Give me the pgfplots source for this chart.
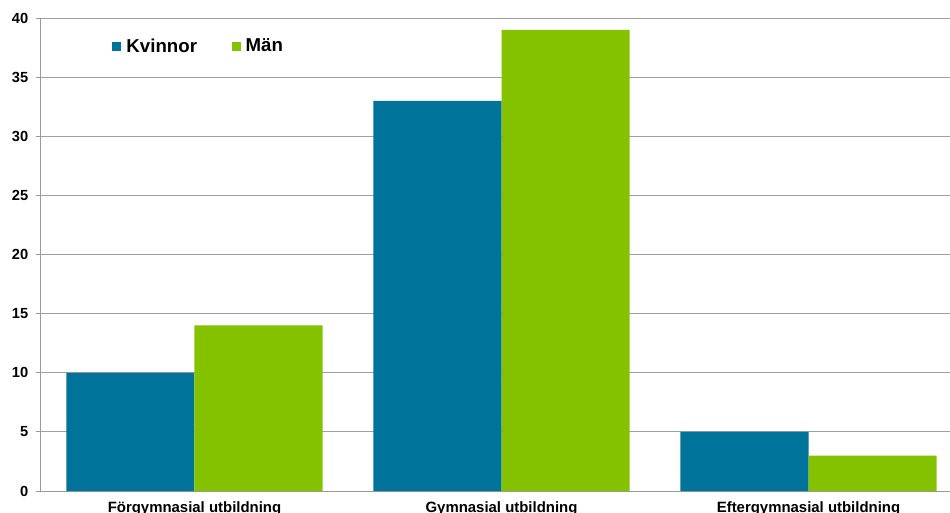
\documentclass[border=0pt]{standalone}
\usepackage{fontspec}
\setmainfont{Liberation Sans}
\usepackage{pgfplots}
\pgfplotsset{compat=1.18}

\definecolor{kvinnor}{HTML}{00739A}
\definecolor{man}{HTML}{84C200}

\begin{document}
\begin{tikzpicture}
  \begin{axis}[
      name            = ax,
      at              = {(0,0)},
      anchor          = south west,
      scale only axis,
      width           = 690.75pt,
      height          = 354.75pt,
      ybar            = 0pt,
      bar width       = 0.417,
      xmin            = -0.5,
      xmax            = 2.5,
      ymin            = 0,
      ymax            = 40,
      ytick           = {0,5,...,40},
      xtick           = {0,1,2},
      xticklabels     = {Förgymnasial utbildning, Gymnasial utbildning, Eftergymnasial utbildning},
      xtick style     = {draw=none},
      extra x ticks   = {-0.5,0.5,1.5,2.5},
      extra x tick labels = {},
      extra x tick style  = {grid=none, tick align=outside, major tick length=4pt, tick style={gray!80, line width=0.75pt}},
      axis lines*     = left,
      axis line style = {gray!80, line width=0.75pt},
      ytick style     = {gray!80, line width=0.75pt},
      tick align      = outside,
      major tick length = 4pt,
      ymajorgrids,
      grid style      = {gray!75, line width=0.75pt},
      yticklabel style = {font=\fontsize{11}{12}\selectfont\bfseries, xshift=-2pt},
      xticklabel style = {font=\fontsize{11.2}{12}\selectfont\bfseries, yshift=-0.5pt},
      /pgf/number format/assume math mode=true,
      legend style    = {at={(0.073,0.968)}, anchor=north west, draw=none, fill=none,
                         font=\fontsize{14}{16}\selectfont\bfseries,
                         /tikz/every even column/.append style={column sep=24pt}},
      legend columns  = 2,
      legend image code/.code = {\fill[#1] (0pt,-3.4pt) rectangle (6.75pt,3.4pt); \path (0pt,0pt) -- (8.5pt,0pt);},
    ]
    \addplot[fill=kvinnor, draw=none] coordinates {(0,10) (1,33) (2,5)};
    \addplot[fill=man, draw=none] coordinates {(0,14) (1,39) (2,3)};
    \legend{Kvinnor, Män}
  \end{axis}
  \pgfresetboundingbox
  \path[use as bounding box] (-30.75pt,-15.75pt) rectangle (681.75pt,368.25pt);
\end{tikzpicture}
\end{document}
